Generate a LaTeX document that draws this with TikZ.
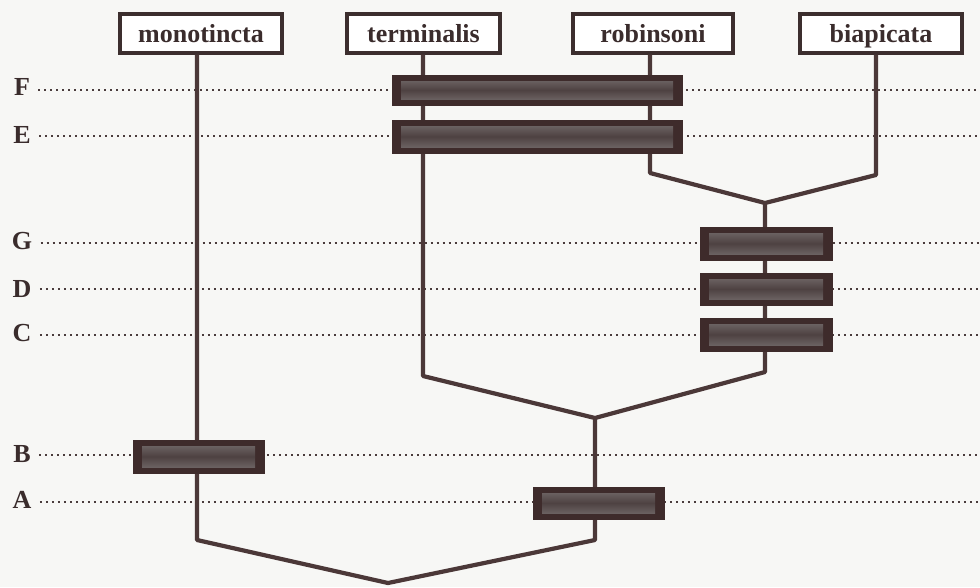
\documentclass[tikz,border=0pt]{standalone}
\usepackage{fontspec}
\setmainfont{Liberation Serif}
\definecolor{bgc}{HTML}{F7F7F5}
\definecolor{inkc}{HTML}{4B3838}
\definecolor{boxc}{HTML}{3C2E2E}
\definecolor{textc}{HTML}{3A2C2C}
\definecolor{barc}{HTML}{3E2B2B}
\definecolor{barl}{HTML}{7A7272}
\definecolor{bard}{HTML}{4E4242}
\definecolor{dotc}{HTML}{4A3C3C}
\begin{document}
\begin{tikzpicture}[x=1pt,y=-1pt,
  ink/.style={draw=inkc, line width=4.2pt, line join=round},
  taxon/.style={draw=boxc, line width=3.2pt, fill=white, minimum height=39pt, inner sep=0pt,
    text height=18pt, text depth=1pt,
    font=\fontsize{26}{26}\selectfont\bfseries, text=textc},
  bar/.style={fill=barc, draw=barc, line width=0.5pt, inner sep=0pt,
    path picture={\shade[top color=barl, bottom color=barl, middle color=bard]
      ([shift={(9pt,6pt)}]path picture bounding box.south west) rectangle
      ([shift={(-9pt,-6pt)}]path picture bounding box.north east);}},
  level/.style={font=\fontsize{26}{26}\selectfont\bfseries, text=textc, anchor=base},
  dots/.style={draw=dotc, line width=2.2pt, dash pattern=on 2pt off 4pt}]
\fill[bgc] (0,0) rectangle (980,587);
\useasboundingbox (0,0) rectangle (980,587);

% level labels
\node[level] (lF) at (22,95) {F};
\node[level] (lE) at (22,143) {E};
\node[level] (lG) at (22,249) {G};
\node[level] (lD) at (22,297) {D};
\node[level] (lC) at (22,341) {C};
\node[level] (lB) at (22,462) {B};
\node[level] (lA) at (22,508) {A};

\coordinate (dF) at (980,90);
\coordinate (dE) at (980,136);
\coordinate (dG) at (980,243);
\coordinate (dD) at (980,289);
\coordinate (dC) at (980,335);
\coordinate (dB) at (980,455);
\coordinate (dA) at (980,502);

\foreach \l in {F,E,G,D,C,B,A}
  \draw[dots] ([xshift=5pt]l\l.east |- d\l) -- (d\l);

% taxa
\node[taxon, minimum width=162pt] (mono) at (201,33.5) {monotincta};
\node[taxon, minimum width=153pt] (term) at (423.5,33.5) {terminalis};
\node[taxon, minimum width=160pt] (rob) at (653,33.5) {robinsoni};
\node[taxon, minimum width=162pt] (bia) at (881,33.5) {biapicata};

% tree coordinates
\coordinate (m1) at (197,540);
\coordinate (root) at (388,583);
\coordinate (a1) at (595,540);
\coordinate (jTC) at (595,418);
\coordinate (t1) at (423,376);
\coordinate (c1) at (765,372);
\coordinate (jRB) at (765,203);
\coordinate (r1) at (650,173);
\coordinate (b1) at (876,175);

\draw[ink] (mono.south -| m1) -- (m1) -- (root) -- (a1) -- (jTC);
\draw[ink] (term.south -| t1) -- (t1) -- (jTC) -- (c1) -- (jRB);
\draw[ink] (rob.south -| r1) -- (r1) -- (jRB) -- (b1) -- (bia.south -| b1);

% character bars
\node[bar, minimum width=290pt, minimum height=30pt] (F) at (537,90) {};
\node[bar, minimum width=290pt, minimum height=33pt] (E) at (537,136.5) {};
\node[bar, minimum width=132pt, minimum height=33pt] (G) at (766,243.5) {};
\node[bar, minimum width=132pt, minimum height=32pt] (D) at (766,289) {};
\node[bar, minimum width=132pt, minimum height=33pt] (C) at (766,334.5) {};
\node[bar, minimum width=131pt, minimum height=33pt] (B) at (198.5,456.5) {};
\node[bar, minimum width=131pt, minimum height=32pt] (A) at (598.5,503) {};
\end{tikzpicture}
\end{document}
